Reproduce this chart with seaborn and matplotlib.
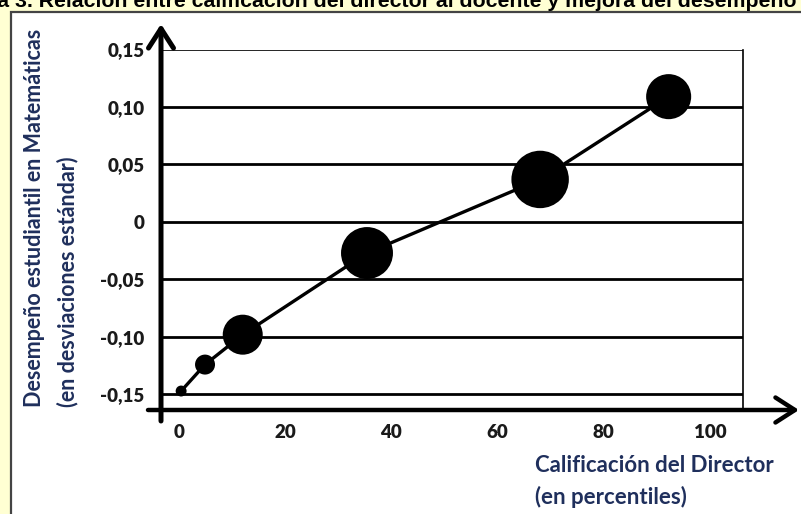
import matplotlib
matplotlib.use("Agg")
import matplotlib.pyplot as plt
import seaborn as sns
from matplotlib.patches import Rectangle

# ─── Data ───────────────────────────────────────────────────────
calificacion = [0.4, 4.9, 12.0, 35.4, 68.0, 92.2]          # percentil del director
desempeno = [-0.147, -0.124, -0.098, -0.027, 0.037, 0.109]  # desv. estándar
peso = [1.2, 4.0, 16.0, 27.0, 33.0, 20.3]                   # tamaño relativo de cada grupo
x_ticks = [0, 20, 40, 60, 80, 100]
x_labels = ["0", "20", "40", "60", "80", "100"]
y_ticks = [-0.15, -0.10, -0.05, 0, 0.05, 0.10, 0.15]
y_labels = ["-0,15", "-0,10", "-0,05", "0", "0,05", "0,10", "0,15"]

# ─── Style ──────────────────────────────────────────────────────
sns.set_theme(style="white")
plt.rcParams["font.family"] = ["Lato", "DejaVu Sans"]

W, H = 801, 514
NAVY = "#1F2F5C"
fig = plt.figure(figsize=(W / 100, H / 100), dpi=100)
fig.patch.set_facecolor("#FFFFD3")

# white panel with dark border
fig.add_artist(Rectangle((11 / W, -0.1), 1.2, (H - 12) / H + 0.1,
                         transform=fig.transFigure, facecolor="white",
                         edgecolor="#444444", linewidth=1.6, zorder=0))

# title, cut off by the top edge as in the source image
fig.text(797 / W, (H - 7) / H,
         "Figura 3. Relación entre calificación del director al docente y mejora del desempeño",
         ha="right", va="baseline", fontsize=15.3, fontweight="bold",
         family=["Liberation Sans", "DejaVu Sans"], color="black")

ax = fig.add_axes([161 / W, (H - 410) / H, (743 - 161) / W, (410 - 49.5) / H])
ax.set_facecolor("none")
ax.set_xlim(-3.39, 106.2)
ax.set_ylim(-0.1635, 0.15)

# horizontal rules
ax.hlines(y_ticks, *ax.get_xlim(), colors="black",
          linewidths=[2.0] * (len(y_ticks) - 1) + [1.2], zorder=1)

for side in ["left", "bottom", "top"]:
    ax.spines[side].set_visible(False)
ax.spines["right"].set_color("black")
ax.spines["right"].set_linewidth(1.2)

# line + bubbles
sns.lineplot(x=calificacion, y=desempeno, color="black", linewidth=2.4,
             ax=ax, zorder=3)
sns.scatterplot(x=calificacion, y=desempeno, size=peso, sizes=(62, 1710),
                color="black", edgecolor="none", legend=False, ax=ax, zorder=4)

# axes with arrow heads
arrow = dict(arrowstyle="->,head_length=0.7,head_width=0.45", color="black",
             mutation_scale=20, shrinkA=0, shrinkB=0)
ax.annotate("", xy=(0, 1 + 25.5 / 360.5), xytext=(0, -11 / 360.5),
            xycoords="axes fraction", annotation_clip=False,
            arrowprops=dict(arrow, lw=3.6))
ax.annotate("", xy=(638 / 582, 0), xytext=(-13 / 582, 0),
            xycoords="axes fraction", annotation_clip=False,
            arrowprops=dict(arrow, lw=3.2))

ax.set_xticks(x_ticks)
ax.set_xticklabels(x_labels)
ax.set_yticks(y_ticks)
ax.set_yticklabels(y_labels)
ax.tick_params(axis="x", length=0, pad=10, labelsize=13.5, labelcolor="#1a1a1a")
ax.tick_params(axis="y", length=0, pad=12, labelsize=13.5, labelcolor="#1a1a1a")
for t in ax.get_xticklabels() + ax.get_yticklabels():
    t.set_fontweight("heavy")
ax.set_xlabel("")
ax.set_ylabel("")

# axis titles
fig.text(535 / W, (H - 465) / H, "Calificación del Director", ha="left",
         va="center", fontsize=16, fontweight="bold", color=NAVY)
fig.text(535 / W, (H - 497) / H, "(en percentiles)", ha="left",
         va="center", fontsize=16, fontweight="bold", color=NAVY)
fig.text(35 / W, (H - 407) / H, "Desempeño estudiantil en Matemáticas",
         rotation=90, ha="center", va="bottom", fontsize=15.5,
         fontweight="bold", color=NAVY)
fig.text(68 / W, (H - 407) / H, "(en desviaciones estándar)",
         rotation=90, ha="center", va="bottom", fontsize=15.5,
         fontweight="bold", color=NAVY)

fig.savefig("out.png", dpi=100, facecolor=fig.get_facecolor())
